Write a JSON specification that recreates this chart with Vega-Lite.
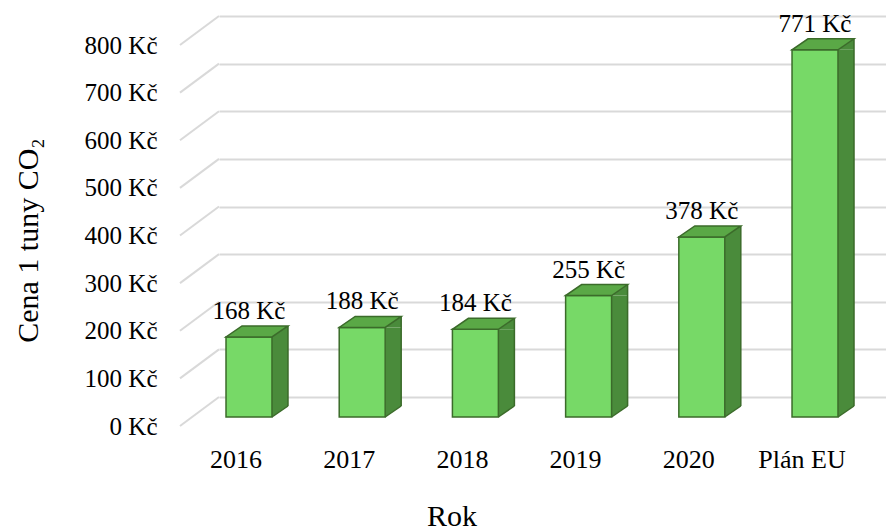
{
  "$schema": "https://vega.github.io/schema/vega-lite/v6.json",
  "width": 667,
  "height": 381,
  "autosize": {"type": "none"},
  "padding": {"left": 219, "top": 16, "right": 0, "bottom": 135},
  "background": "white",
  "config": {"view": {"stroke": null}, "font": "Liberation Serif"},
  "datasets": {
    "bars": [
      {"year": "2016", "value": 168},
      {"year": "2017", "value": 188},
      {"year": "2018", "value": 184},
      {"year": "2019", "value": 255},
      {"year": "2020", "value": 378},
      {"year": "Plán EU", "value": 771}
    ],
    "grid": [
      {"v": 0}, {"v": 100}, {"v": 200}, {"v": 300}, {"v": 400},
      {"v": 500}, {"v": 600}, {"v": 700}, {"v": 800}
    ]
  },
  "resolve": {"scale": {"x": "shared", "y": "shared"}},
  "layer": [
    {
      "data": {"name": "grid"},
      "mark": {"type": "rule", "color": "#d9d9d9", "strokeWidth": 2, "y2Offset": 29},
      "encoding": {
        "x": {"value": 0},
        "x2": {"value": -39},
        "y": {"field": "v", "type": "quantitative", "scale": {"domain": [0, 800], "nice": false},
          "axis": {
            "values": [0, 100, 200, 300, 400, 500, 600, 700, 800],
            "labelExpr": "datum.value + ' Kč'",
            "labelFont": "Liberation Serif", "labelFontSize": 25, "labelFontWeight": "normal", "labelColor": "black",
            "labelPadding": 62, "labelOffset": 29,
            "grid": true, "gridColor": "#d9d9d9", "gridWidth": 2,
            "domain": false, "ticks": false, "tickSize": 0,
            "title": "Cena 1 tuny CO₂", "titleFont": "Liberation Serif", "titleFontSize": 30,
            "titleFontWeight": "normal", "titleColor": "black",
            "titleX": -191, "titleY": 224, "titleAlign": "center", "titleBaseline": "middle", "titleAngle": -90
          }
        },
        "y2": {"field": "v"}
      }
    },
    {
      "data": {"name": "bars"},
      "layer": [
        {
          "mark": {"type": "bar", "width": 16, "xOffset": 5, "yOffset": 20, "y2Offset": 9, "fill": "#4a8b3b", "stroke": null},
          "encoding": {
            "x": {"field": "year", "type": "nominal", "sort": null,
              "scale": {"paddingInner": 0.594, "paddingOuter": 0.243, "align": 0.6},
              "axis": {
                "labelFont": "Liberation Serif", "labelFontSize": 26, "labelFontWeight": "normal", "labelColor": "black", "labelAngle": 0,
                "labelOffset": -39, "labelPadding": 70, "labelBaseline": "alphabetic",
                "domain": false, "ticks": false, "tickSize": 0, "grid": false,
                "title": "Rok", "titleFont": "Liberation Serif", "titleFontSize": 30, "titleFontWeight": "normal",
                "titleColor": "black", "titleX": 232.5, "titleY": 128, "titleBaseline": "alphabetic", "titleAlign": "center"
              }
            },
            "y": {"field": "value", "type": "quantitative"},
            "y2": {"datum": 0}
          }
        },
        {
          "mark": {"type": "point", "shape": "M23,0L39,-11L39,0Z", "size": 4, "filled": true, "fill": "#4a8b3b", "strokeWidth": 0, "opacity": 1, "xOffset": -26, "yOffset": 20},
          "encoding": {
            "x": {"field": "year", "type": "nominal", "sort": null},
            "y": {"field": "value", "type": "quantitative"}
          }
        },
        {
          "mark": {"type": "point", "shape": "M23,0L23,-11L39,-11Z", "size": 4, "filled": true, "fill": "#4a8b3b", "strokeWidth": 0, "opacity": 1, "xOffset": -26, "yOffset": 20},
          "encoding": {
            "x": {"field": "year", "type": "nominal", "sort": null},
            "y": {"datum": 0}
          }
        },
        {
          "mark": {"type": "rule", "color": "#3b6b2a", "strokeWidth": 1.5, "xOffset": 13, "yOffset": 9, "y2Offset": 9},
          "encoding": {
            "x": {"field": "year", "type": "nominal", "sort": null},
            "y": {"field": "value", "type": "quantitative"},
            "y2": {"datum": 0}
          }
        },
        {
          "mark": {"type": "point", "shape": "M23,0L39,-11", "size": 4, "filled": false, "stroke": "#3b6b2a", "strokeWidth": 1.5, "opacity": 1, "xOffset": -26, "yOffset": 20},
          "encoding": {
            "x": {"field": "year", "type": "nominal", "sort": null},
            "y": {"datum": 0}
          }
        },
        {
          "mark": {"type": "bar", "xOffset": -26, "yOffset": 20, "y2Offset": 20, "fill": "#77d967", "stroke": "#3b6b2a", "strokeWidth": 1.5},
          "encoding": {
            "x": {"field": "year", "type": "nominal", "sort": null},
            "y": {"field": "value", "type": "quantitative"},
            "y2": {"datum": 0}
          }
        },
        {
          "mark": {"type": "point", "shape": "M-23,0L23,0L39,-11L-7,-11Z", "size": 4, "filled": true, "fill": "#5aa846", "stroke": "#3b6b2a", "strokeWidth": 1.5, "opacity": 1, "xOffset": -26, "yOffset": 20},
          "encoding": {
            "x": {"field": "year", "type": "nominal", "sort": null},
            "y": {"field": "value", "type": "quantitative"}
          }
        },
        {
          "mark": {"type": "text", "font": "Liberation Serif", "fontSize": 25, "color": "black", "baseline": "alphabetic", "align": "center", "xOffset": -26, "yOffset": 2,
            "text": {"expr": "datum.value + ' Kč'"}},
          "encoding": {
            "x": {"field": "year", "type": "nominal", "sort": null},
            "y": {"field": "value", "type": "quantitative"}
          }
        }
      ]
    }
  ]
}
